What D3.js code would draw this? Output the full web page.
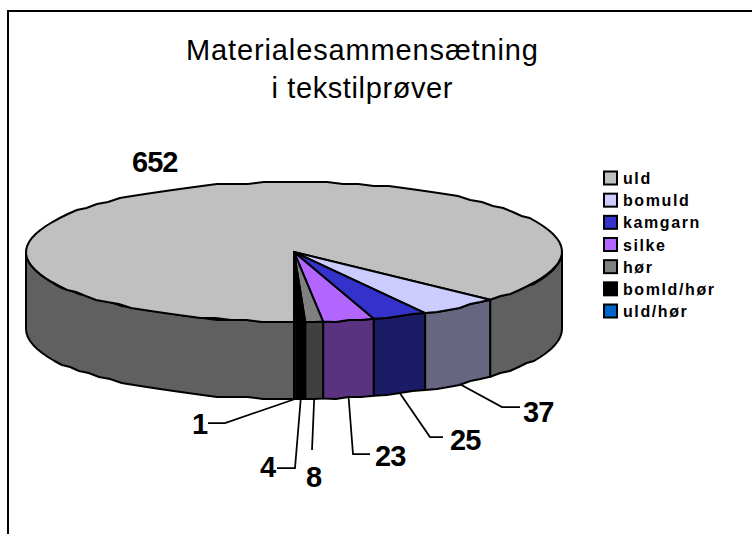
<!DOCTYPE html>
<html>
<head>
<meta charset="utf-8">
<script src="https://cdn.jsdelivr.net/npm/d3@7"></script>
<style>
html, body { margin: 0; background: #fff; }
svg { display: block; font-family: "Liberation Sans", Arial, sans-serif; }
</style>
</head>
<body>
<svg width="752" height="534"></svg>
<script>
const categories = ["uld", "bomuld", "kamgarn", "silke", "hør", "bomld/hør", "uld/hør"];
const values = [652, 37, 25, 23, 8, 4, 1];
const topColors = ["#c0c0c0", "#ccccff", "#3333cc", "#b266ff", "#808080", "#000000", "#0066cc"];
const sideColors = ["#606060", "#666680", "#1c1c66", "#5a3380", "#404040", "#000000", "#003366"];
const titleLines = ["Materialesammensætning", "i tekstilprøver"];

var svg = d3.select("svg");

const cx = 294, cy = 252, rx = 268, ry = 70, depth = 77;

var x = d3.scaleLinear().domain([-1, 1]).range([cx - rx, cx + rx]);
var y = d3.scaleLinear().domain([-1, 1]).range([cy - ry, cy + ry]);

// angle is clockwise from north, like d3.pie
let rimX = (a) => x(Math.sin(a));
let rimY = (a) => y(-Math.cos(a));

let line = d3.line().x((d) => d[0]).y((d) => d[1]);

// coarse steps and a 2px grid give the rim its rough printed look
function arcPoints(a0, a1, dy = 0) {
    let n = Math.max(1, Math.ceil(Math.abs(a1 - a0) / 0.06));
    return d3.range(n + 1).map((i) => {
        let a = a0 + (a1 - a0) * i / n;
        let py = rimY(a);
        if (i > 0 && i < n) py = Math.round(py / 2) * 2;
        return [rimX(a), py + dy];
    });
}

var slices = d3.pie().sort(null).startAngle(Math.PI).endAngle(3 * Math.PI)(values);

// frame: left and top only
svg.append("path")
    .attr("d", "M8,534V11H752")
    .attr("fill", "none")
    .attr("stroke", "#000")
    .attr("stroke-width", 2);

const titleWidths = [352, 181];
svg.append("g").selectAll("text")
    .data(titleLines)
    .join("text")
    .attr("x", 362)
    .attr("y", (d, i) => 60 + i * 38)
    .attr("text-anchor", "middle")
    .attr("font-size", 29)
    .attr("textLength", (d, i) => titleWidths[i])
    .attr("lengthAdjust", "spacing")
    .text((d) => d);

// side walls: only the part of each slice facing the front
const front0 = Math.PI / 2, front1 = 3 * Math.PI / 2;
var walls = svg.append("g");
function wall(a0, a1, color) {
    let lo = Math.max(a0, front0), hi = Math.min(a1, front1);
    if (hi <= lo) return;
    let pts = arcPoints(lo, hi).concat(arcPoints(hi, lo, depth));
    walls.append("path")
        .attr("d", line(pts) + "Z")
        .attr("fill", color)
        .attr("stroke", "#000")
        .attr("stroke-width", 2)
        .attr("stroke-linejoin", "round");
}
slices.forEach((s, i) => {
    // the slices run from 180deg past 360deg, so walls may sit in either turn
    wall(s.startAngle, s.endAngle, sideColors[i]);
    wall(s.startAngle - 2 * Math.PI, s.endAngle - 2 * Math.PI, sideColors[i]);
});

// top faces
svg.append("g").selectAll("path")
    .data(slices)
    .join("path")
    .attr("d", (s) => line([[x(0), y(0)]].concat(arcPoints(s.startAngle, s.endAngle))) + "Z")
    .attr("fill", (s, i) => topColors[i])
    .attr("stroke", "#000")
    .attr("stroke-width", 2)
    .attr("stroke-linejoin", "miter");

// value labels and leader lines, placed by hand as in the original
const labelSpots = [
    { tx: 132, ty: 172, elbow: null },
    { tx: 523, ty: 422, elbow: [[502, 407], [520, 407]] },
    { tx: 450, ty: 450, elbow: [[430, 437], [443, 437]] },
    { tx: 375, ty: 466, elbow: [[353, 454], [370, 454]] },
    { tx: 306, ty: 487, elbow: [[312, 450]] },
    { tx: 260, ty: 477, elbow: [[295, 468], [277, 468]] },
    { tx: 192, ty: 434, elbow: [[225, 423], [208, 423]] }
];

var labels = svg.append("g");
slices.forEach((s, i) => {
    let spot = labelSpots[i];
    let mid = (s.startAngle + s.endAngle) / 2;
    if (spot.elbow) {
        labels.append("path")
            .attr("d", line([[rimX(mid), rimY(mid) + depth]].concat(spot.elbow)))
            .attr("fill", "none")
            .attr("stroke", "#000")
            .attr("stroke-width", 1.75);
    }
    labels.append("text")
        .attr("x", spot.tx).attr("y", spot.ty)
        .attr("font-size", 29).attr("font-weight", "bold")
        .attr("letter-spacing", -1)
        .text(values[i]);
});

// legend
var legendY = d3.scalePoint().domain(categories).range([178, 311]);
var legend = svg.append("g");
categories.forEach((c, i) => {
    legend.append("rect")
        .attr("x", 604).attr("y", legendY(c) - 6.5)
        .attr("width", 13).attr("height", 13)
        .attr("fill", topColors[i])
        .attr("stroke", "#000")
        .attr("stroke-width", 2);
    legend.append("text")
        .attr("x", 623).attr("y", legendY(c) + 6)
        .attr("font-size", 16).attr("font-weight", "bold")
        .attr("letter-spacing", 1.6)
        .text(c);
});
</script>
</body>
</html>
